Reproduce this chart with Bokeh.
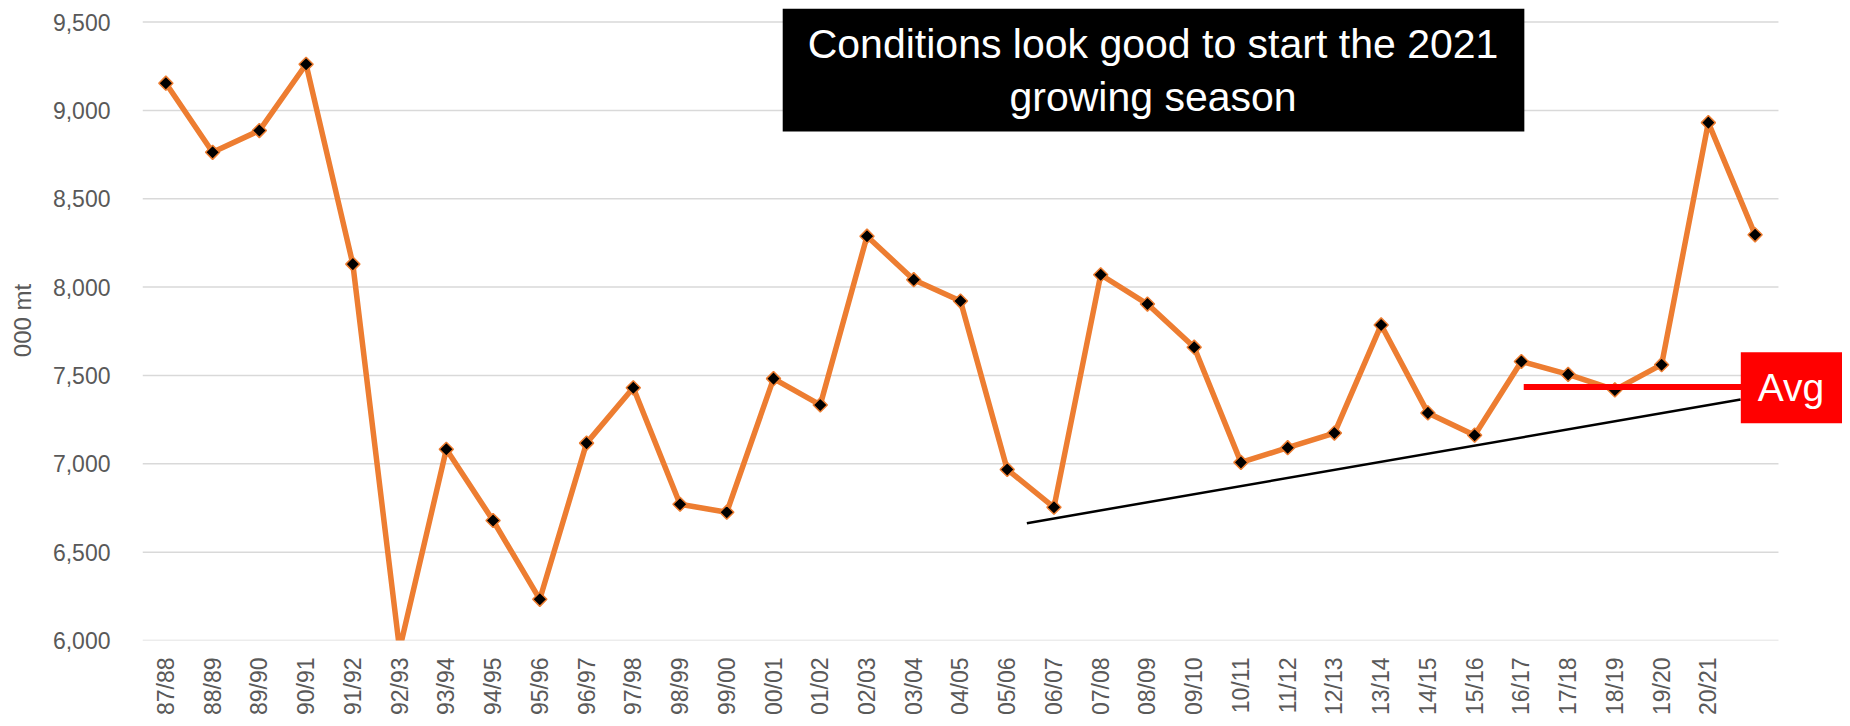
import numpy as np
from math import pi
from bokeh.plotting import figure
from bokeh.models import Range1d, FixedTicker, NumeralTickFormatter, Label
from bokeh.embed import file_html
from bokeh.resources import INLINE

# ---------------- data ----------------
seasons = ["87/88", "88/89", "89/90", "90/91", "91/92", "92/93", "93/94", "94/95",
           "95/96", "96/97", "97/98", "98/99", "99/00", "00/01", "01/02", "02/03",
           "03/04", "04/05", "05/06", "06/07", "07/08", "08/09", "09/10", "10/11",
           "11/12", "12/13", "13/14", "14/15", "15/16", "16/17", "17/18", "18/19",
           "19/20", "20/21", ""]
production = [9154, 8763, 8886, 9261, 8130, 5950, 7082, 6679, 6233, 7117,
              7430, 6771, 6726, 7482, 7333, 8288, 8042, 7921, 6968, 6754,
              8070, 7904, 7660, 7008, 7091, 7174, 7786, 7288, 7162, 7579,
              7506, 7418, 7561, 8931, 8296]
y_ticks = [6000, 6500, 7000, 7500, 8000, 8500, 9000, 9500]
avg_value = 7435
avg_span = [29.05, 33.8]          # category positions covered by the Avg line
trend_x = [18.42, 33.69]          # category positions of the trend line ends
trend_y = [6664, 7364]
title_text = "Conditions look good to start the 2021\ngrowing season"
y_title = "000 mt"

FONT = "Liberation Sans"
GREY = "#595959"
ORANGE = "#ED7D31"

x = np.arange(len(seasons))
n = len(seasons)

# frame: left edge at category -0.5, extends to the canvas edge so that the
# annotation boxes are not clipped; gridlines are drawn only over the categories
p = figure(width=1842, height=718, output_backend="svg", toolbar_location=None,
           x_range=Range1d(-0.5, 35.87),
           y_range=Range1d(y_ticks[0], 9622),
           min_border_left=142, min_border_right=0, min_border_top=0,
           min_border_bottom=75)
p.outline_line_color = None
p.background_fill_color = "white"
p.border_fill_color = "white"
p.xgrid.grid_line_color = None
p.ygrid.grid_line_color = None

# horizontal gridlines over the category span
p.segment(x0=[-0.5] * len(y_ticks), x1=[n - 0.5] * len(y_ticks),
          y0=y_ticks, y1=y_ticks, line_color="#d9d9d9", line_width=1.5)

# y axis
p.yaxis.ticker = FixedTicker(ticks=y_ticks)
p.yaxis.formatter = NumeralTickFormatter(format="0,0")
p.yaxis.axis_line_color = None
p.yaxis.major_tick_line_color = None
p.yaxis.minor_tick_line_color = None
p.yaxis.major_tick_out = 0
p.yaxis.major_tick_in = 0
p.yaxis.minor_tick_out = 0
p.yaxis.major_label_standoff = 32
p.yaxis.major_label_text_font = FONT
p.yaxis.major_label_text_font_size = "23px"
p.yaxis.major_label_text_color = GREY
p.yaxis.axis_label = y_title
p.yaxis.axis_label_text_font = FONT
p.yaxis.axis_label_text_font_size = "24px"
p.yaxis.axis_label_text_font_style = "normal"
p.yaxis.axis_label_text_color = GREY
p.yaxis.axis_label_standoff = 14

# x axis
p.xaxis.ticker = FixedTicker(ticks=[int(i) for i in x if seasons[i]])
p.xaxis.major_label_overrides = {int(i): s for i, s in zip(x, seasons) if s}
p.xaxis.major_label_orientation = pi / 2
p.xaxis.axis_line_color = None
p.xaxis.major_tick_line_color = None
p.xaxis.minor_tick_line_color = None
p.xaxis.major_tick_out = 0
p.xaxis.major_tick_in = 0
p.xaxis.minor_tick_out = 0
p.xaxis.major_label_standoff = 17
p.xaxis.major_label_text_font = FONT
p.xaxis.major_label_text_font_size = "23px"
p.xaxis.major_label_text_color = GREY

# series
p.line(x, production, line_color=ORANGE, line_width=5.5, line_join="round")
p.scatter(x, production, marker="square", size=10, angle=pi / 4,
          fill_color="black", line_color=ORANGE, line_width=1.5)

# trend line and average line
p.line(trend_x, trend_y, line_color="black", line_width=2.5)
p.line(avg_span, [avg_value, avg_value], line_color="#FF0000", line_width=6)

# annotations
title = Label(x=21.13, y=9228, text=title_text, text_align="center",
              text_baseline="middle", text_font=FONT, text_font_size="41px",
              text_color="white", text_line_height=1.15,
              background_fill_color="black", background_fill_alpha=1.0,
              padding=dict(left=25, right=26, top=12, bottom=12))
p.add_layout(title)

avg_lbl = Label(x=34.78, y=7430, text="Avg", text_align="center",
                text_baseline="middle", text_font=FONT, text_font_size="39px",
                text_color="white", background_fill_color="#FF0000",
                background_fill_alpha=1.0,
                padding=dict(left=17, right=18, top=14, bottom=14))
p.add_layout(avg_lbl)

open("out.html", "w").write(file_html(p, INLINE))
